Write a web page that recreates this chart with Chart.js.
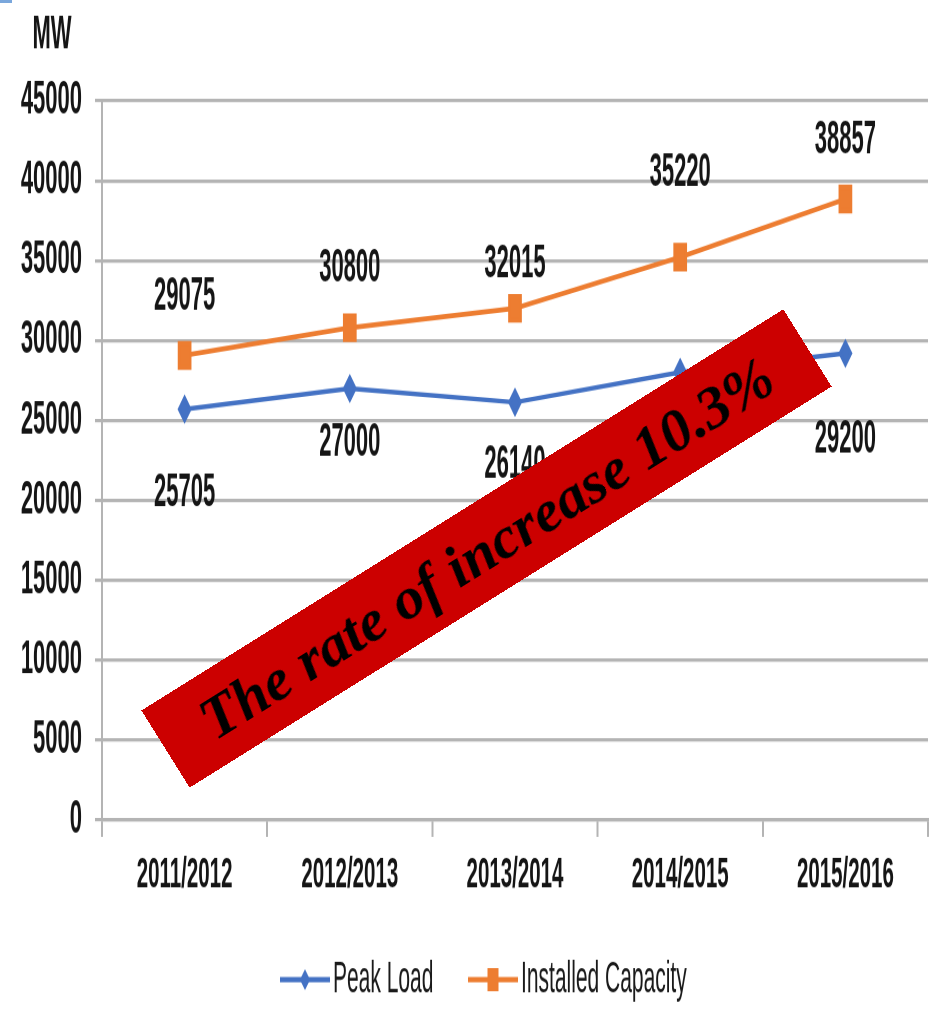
<!DOCTYPE html>
<html lang="en">
<head>
    <meta charset="UTF-8">
    <title>Peak Load vs Installed Capacity</title>
    <script src="https://cdn.jsdelivr.net/npm/chart.js"></script>
    <style>
        body { margin: 0; background: #fff; width: 932px; height: 1009px; overflow: hidden; position: relative; }
        #wrap { position: absolute; left: 0; top: 0; width: 932px; height: 480px; transform: scaleY(2.1); transform-origin: 0 0; }
        #banner {
            position: absolute; left: 108px; top: 503px; width: 757px; height: 91px;
            background: #cc0000; color: #000; transform: rotate(-32deg);
            font: italic bold 60px "Liberation Serif", "Times New Roman", serif;
            line-height: 91px; text-align: center; white-space: nowrap;
        }
        #corner { position: absolute; left: 0; top: 0; width: 12px; height: 3px; background: #7aa7dc; }
    </style>
</head>
<body>
    <div id="corner"></div>
    <div id="wrap"><canvas id="loadChart"></canvas></div>
    <div id="banner">The rate of increase 10.3%</div>

    <script>
        // data
        const years = ['2011/2012', '2012/2013', '2013/2014', '2014/2015', '2015/2016'];
        const peakLoad = [25705, 27000, 26140, 28015, 29200];
        const installedCapacity = [29075, 30800, 32015, 35220, 38857];
        const yTicks = [0, 5000, 10000, 15000, 20000, 25000, 30000, 35000, 40000, 45000];

        // label offsets (unscaled px), kept apart from the values
        const peakLabelShift = [40, 26, 30, 30, 41];
        const capLabelShift = [-28, -28, -21, -40, -28];

        const gridGray = '#b4b4b4';
        const labelFont = 'bold 22px "Liberation Sans", Arial, sans-serif';

        const valueLabels = {
            id: 'valueLabels',
            afterDatasetsDraw(chart) {
                const ctx = chart.ctx;
                ctx.save();
                ctx.font = labelFont;
                ctx.fillStyle = '#151515';
                ctx.textAlign = 'center';
                ctx.textBaseline = 'middle';
                chart.data.datasets.forEach((ds, i) => {
                    const shifts = i === 0 ? peakLabelShift : capLabelShift;
                    chart.getDatasetMeta(i).data.forEach((pt, j) => {
                        ctx.fillText(String(ds.data[j]), pt.x, pt.y + shifts[j]);
                    });
                });
                // axis unit
                ctx.fillText('MW', 52, 17);
                ctx.restore();
            }
        };

        const lineLegend = {
            id: 'lineLegend',
            afterDraw(chart) {
                const ctx = chart.ctx;
                const y = 466.5;
                const items = [
                    { ds: chart.data.datasets[0], x: 280 },
                    { ds: chart.data.datasets[1], x: 468 }
                ];
                ctx.save();
                items.forEach(it => {
                    ctx.strokeStyle = it.ds.borderColor;
                    ctx.lineWidth = 2.6;
                    ctx.beginPath();
                    ctx.moveTo(it.x, y);
                    ctx.lineTo(it.x + 50, y);
                    ctx.stroke();
                    ctx.fillStyle = it.ds.borderColor;
                    const cx = it.x + 25;
                    ctx.beginPath();
                    if (it.ds.pointStyle === 'rectRot') {
                        ctx.moveTo(cx, y - 5); ctx.lineTo(cx + 5, y); ctx.lineTo(cx, y + 5); ctx.lineTo(cx - 5, y);
                    } else {
                        ctx.rect(cx - 5.5, y - 5.5, 11, 11);
                    }
                    ctx.closePath();
                    ctx.fill();
                    ctx.fillStyle = '#1a1a1a';
                    ctx.font = '21px "Liberation Sans", Arial, sans-serif';
                    ctx.textAlign = 'left';
                    ctx.textBaseline = 'middle';
                    ctx.fillText(it.ds.label, it.x + 53, y);
                });
                ctx.restore();
            }
        };

        new Chart(document.getElementById('loadChart'), {
            type: 'line',
            data: {
                labels: years,
                datasets: [{
                    label: 'Peak Load',
                    data: peakLoad,
                    borderColor: '#4472c4',
                    backgroundColor: '#4472c4',
                    borderWidth: 2.2,
                    pointStyle: 'rectRot',
                    pointRadius: 5.5,
                    tension: 0
                }, {
                    label: 'Installed Capacity',
                    data: installedCapacity,
                    borderColor: '#ed7d31',
                    backgroundColor: '#ed7d31',
                    borderWidth: 2.4,
                    pointStyle: 'rect',
                    pointRadius: 8,
                    tension: 0
                }]
            },
            options: {
                responsive: true,
                maintainAspectRatio: false,
                animation: false,
                devicePixelRatio: 2,
                layout: { autoPadding: false, padding: { top: 48, right: 4, bottom: 49.5, left: 0 } },
                plugins: { legend: { display: false }, tooltip: { enabled: false } },
                scales: {
                    x: {
                        offset: true,
                        afterFit: s => { s.height = 40; s.paddingLeft = 0; s.paddingRight = 0; },
                        grid: { offset: true, drawOnChartArea: false, tickLength: 8, color: gridGray, lineWidth: 2 },
                        border: { color: gridGray, width: 1.6 },
                        ticks: { color: '#151515', padding: 6, font: { family: '"Liberation Sans", Arial, sans-serif', size: 20.5, weight: 'bold' } }
                    },
                    y: {
                        min: 0,
                        max: 45000,
                        afterFit: s => { s.width = 102; },
                        afterBuildTicks: s => { s.ticks = yTicks.map(v => ({ value: v })); },
                        grid: { color: gridGray, lineWidth: 1.6, tickLength: 7 },
                        border: { color: gridGray, width: 2 },
                        ticks: {
                            color: '#151515', padding: 13,
                            callback: v => String(v),
                            font: { family: '"Liberation Sans", Arial, sans-serif', size: 22, weight: 'bold' }
                        }
                    }
                }
            },
            plugins: [valueLabels, lineLegend]
        });
    </script>
</body>
</html>
